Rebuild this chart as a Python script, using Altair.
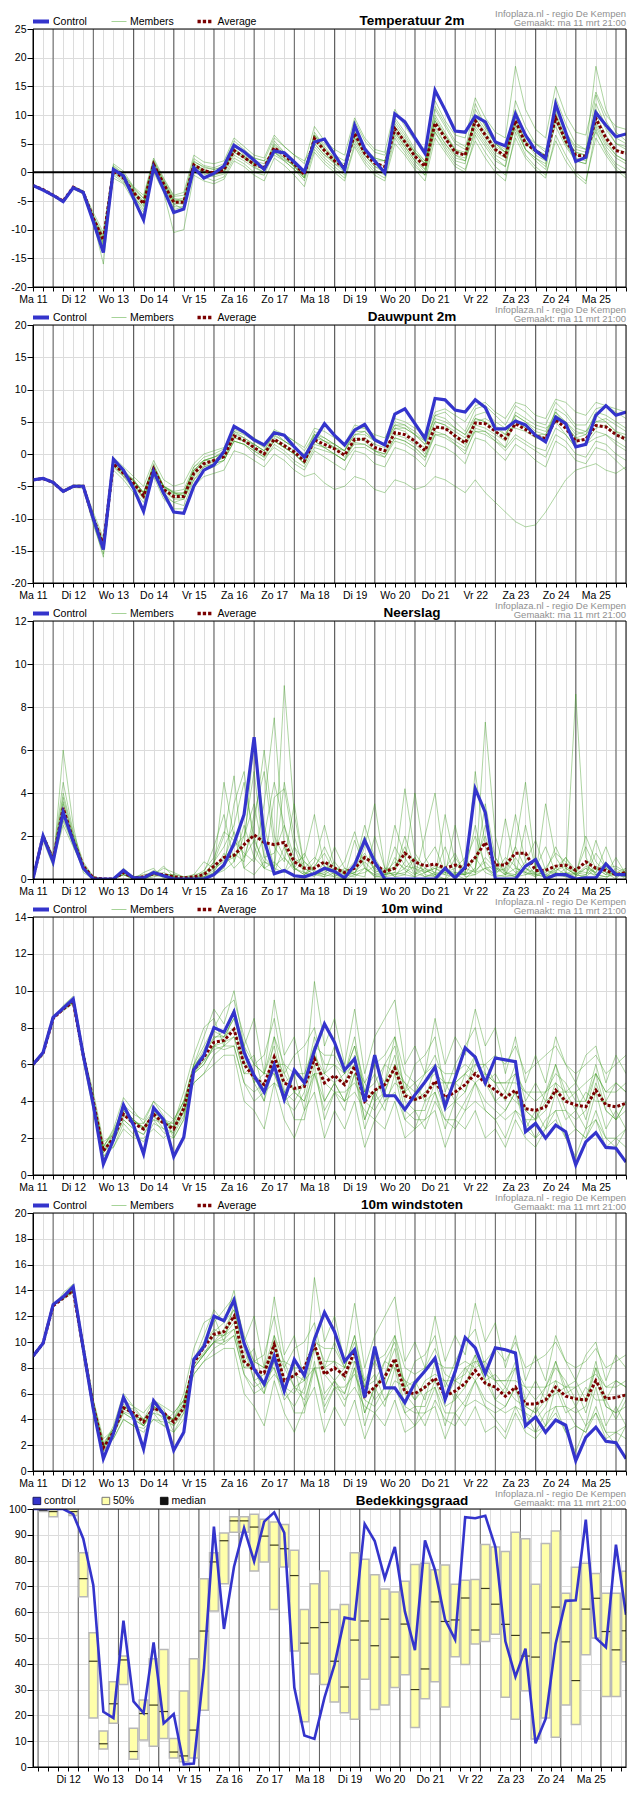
import altair as alt
import pandas as pd

FONT = "Liberation Sans"
W, H, GAP = 593, 258, 38

# ---------------- time axis (hours since Ma 11 00:00) ----------------
DAY_NAMES = ["Ma 11", "Di 12", "Wo 13", "Do 14", "Vr 15", "Za 16", "Zo 17", "Ma 18",
             "Di 19", "Wo 20", "Do 21", "Vr 22", "Za 23", "Zo 24", "Ma 25", "Di 26"]
HOURS = [12 + 6 * i for i in range(60)]          # panels 1-5, every 6 h
HOURS_CC = [21 + 6 * i for i in range(60)]       # cloud-cover panel
DAY_LINES = [24 * k for k in range(1, 16)]
GRID_HOURS = list(range(12, 367, 6))
GRID_HOURS_CC = list(range(24, 376, 6))

# ---------------- Temperatuur 2m ----------------
T2M_CONTROL = [-2.3, -3.1, -4.0, -5.1, -2.7, -3.5, -8.6, -14.0, 0.5, -0.6,
               -4.5, -8.3, 0.9, -3.0, -7.0, -6.4, 0.8, -1.0, -0.2, 1.1,
               4.7, 3.6, 2.1, 0.5, 3.7, 3.4, 1.8, 0.1, 5.3, 5.8,
               3.1, 0.4, 8.2, 4.1, 2.0, -0.1, 10.2, 8.8, 6.0, 3.3,
               14.3, 10.9, 7.2, 7.0, 9.8, 8.8, 5.3, 4.6, 10.2, 6.5,
               3.8, 2.4, 11.9, 7.0, 1.9, 2.6, 10.4, 8.2, 6.2, 6.7]
T2M_AVERAGE = [-2.3, -3.0, -4.0, -5.0, -2.6, -3.5, -8.0, -11.8, 0.3, -1.0,
               -3.5, -5.5, 1.4, -2.0, -5.2, -5.2, 1.3, 0.3, -0.1, 0.4,
               3.8, 2.6, 1.4, 0.8, 4.3, 3.0, 1.5, -0.4, 5.9, 3.8,
               2.0, 0.8, 6.8, 3.3, 1.6, 1.0, 7.6, 5.3, 2.8, 1.0,
               8.6, 6.0, 3.5, 3.0, 9.0, 6.5, 4.0, 2.8, 9.0, 5.0,
               3.8, 2.6, 9.5, 5.5, 3.0, 2.8, 9.4, 6.0, 3.8, 3.3]
T2M_MEMBERS = [
    [-2.2, -3.0, -3.9, -4.9, -2.4, -3.2, -7.5, -11.0, 1.5, 0.2,
     -2.5, -4.0, 2.5, -1.0, -4.0, -3.5, 3.0, 1.8, 1.5, 2.0,
     6.0, 4.5, 3.0, 2.5, 6.5, 4.5, 3.0, 1.5, 8.0, 5.5,
     4.0, 3.0, 9.5, 6.0, 4.0, 3.5, 11.0, 8.0, 5.5, 4.0,
     12.5, 9.0, 6.5, 6.0, 13.0, 9.5, 7.0, 6.0, 18.5, 11.0,
     7.5, 6.0, 15.0, 10.0, 7.0, 6.5, 14.0, 10.0, 8.0, 7.5],
    [-2.4, -3.1, -4.2, -5.3, -2.9, -3.8, -9.0, -13.5, -1.0, -2.0,
     -5.0, -7.5, 0.0, -3.5, -10.5, -10.0, -0.5, -1.5, -2.0, -1.2,
     2.0, 1.0, -0.5, -1.5, 2.5, 1.2, -0.5, -2.5, 3.5, 1.5,
     0.0, -1.5, 4.5, 1.5, -0.5, -1.5, 5.0, 3.0, 0.5, -1.5,
     6.0, 3.5, 1.0, 0.0, 6.5, 3.5, 1.0, -0.5, 6.0, 2.5,
     0.5, -1.0, 6.5, 3.0, 0.0, -1.5, 6.0, 3.0, 0.5, -1.0],
    [-2.3, -3.0, -4.0, -5.0, -2.5, -3.4, -7.8, -12.0, 0.8, -0.5,
     -3.0, -5.0, 2.0, -1.5, -4.5, -5.0, 2.0, 0.8, 0.5, 1.0,
     5.0, 3.0, 2.0, 1.5, 4.0, 2.5, 1.0, -1.0, 7.0, 4.5,
     2.5, 1.0, 6.0, 3.0, 1.0, 0.5, 9.0, 6.5, 3.5, 1.5,
     10.0, 7.0, 4.0, 3.5, 8.0, 5.5, 3.0, 2.0, 11.0, 6.5,
     5.0, 3.5, 8.0, 4.5, 2.0, 1.5, 12.0, 8.0, 5.0, 4.0],
    [-2.3, -3.0, -4.1, -5.1, -2.7, -3.6, -8.3, -12.5, -0.2, -1.5,
     -4.0, -6.5, 0.8, -2.5, -6.0, -6.0, 0.5, -0.3, -0.8, -0.3,
     3.0, 2.0, 0.8, 0.0, 5.0, 3.5, 2.0, 0.0, 5.0, 3.0,
     1.5, 0.0, 7.5, 4.0, 2.5, 2.0, 7.0, 4.5, 2.0, 0.5,
     9.5, 6.5, 4.0, 3.0, 10.0, 7.5, 5.0, 4.0, 8.0, 4.0,
     2.5, 1.5, 10.5, 6.0, 3.5, 3.0, 8.5, 5.0, 3.0, 2.0],
    [-2.2, -2.9, -3.9, -5.0, -2.5, -3.3, -7.0, -10.5, 1.2, -0.2,
     -2.8, -4.5, 1.8, -1.5, -4.8, -4.5, 1.8, 1.0, 0.5, 1.0,
     4.5, 3.5, 2.5, 2.0, 3.5, 2.5, 1.0, -0.5, 6.5, 5.0,
     3.0, 2.0, 7.0, 4.0, 2.5, 2.0, 8.0, 5.5, 3.5, 2.0,
     7.5, 5.0, 3.0, 2.5, 9.5, 7.0, 4.5, 3.5, 10.0, 6.0,
     4.0, 3.0, 11.0, 7.0, 4.5, 4.0, 11.0, 7.5, 5.0, 4.5],
    [-2.4, -3.0, -4.0, -5.0, -2.6, -3.5, -8.0, -12.5, 0.0, -1.2,
     -4.5, -6.0, 1.0, -2.5, -5.5, -5.5, 1.0, 0.0, -0.5, 0.0,
     4.0, 2.8, 1.2, 0.5, 5.5, 3.5, 1.5, -0.8, 4.5, 2.5,
     1.0, -0.5, 8.0, 4.5, 2.0, 0.0, 6.5, 4.0, 1.5, -0.5,
     8.0, 5.0, 2.5, 2.0, 7.0, 4.5, 2.0, 1.0, 8.5, 4.0,
     2.0, 0.5, 9.0, 5.0, 2.0, 1.5, 8.0, 4.5, 2.5, 1.5],
    [-2.3, -3.1, -4.0, -5.0, -2.6, -3.6, -8.5, -16.0, 0.5, -1.0,
     -3.5, -5.5, 1.2, -2.0, -5.0, -4.8, 1.5, 0.5, 0.0, 0.8,
     3.5, 2.5, 1.5, 1.0, 3.0, 2.0, 0.5, -1.0, 6.0, 4.0,
     2.0, 1.5, 6.5, 3.5, 2.0, 2.0, 8.5, 6.0, 3.5, 1.5,
     11.0, 8.0, 5.0, 4.0, 12.0, 8.0, 5.0, 3.5, 9.0, 5.5,
     4.0, 3.0, 12.0, 7.0, 4.0, 3.5, 18.5, 11.0, 7.0, 5.5],
    [-2.2, -3.0, -4.1, -4.9, -2.6, -3.4, -8.0, -11.5, 0.6, -0.8,
     -3.3, -5.3, 1.6, -2.0, -5.5, -6.5, 1.0, 0.0, -0.5, 0.2,
     3.5, 2.5, 1.0, 0.0, 4.5, 3.0, 1.0, -1.0, 5.5, 3.5,
     1.5, 0.5, 6.0, 3.0, 1.0, 0.0, 7.5, 5.0, 2.5, 0.5,
     9.0, 6.0, 3.0, 2.0, 7.5, 5.0, 2.5, 1.0, 9.5, 5.5,
     3.0, 2.0, 10.0, 5.0, 2.5, 2.0, 9.0, 5.5, 3.0, 2.0],
    [-2.3, -3.0, -4.0, -5.0, -2.6, -3.5, -8.2, -12.8, 0.2, -1.1,
     -3.8, -5.8, 1.0, -2.2, -5.0, -5.6, 1.2, 0.2, -0.2, 0.3,
     4.2, 2.8, 1.6, 1.0, 3.5, 2.2, 1.2, -0.2, 6.5, 4.2,
     2.5, 1.0, 5.5, 2.5, 0.5, -0.5, 9.5, 7.0, 4.0, 2.0,
     7.0, 4.5, 2.0, 1.5, 11.0, 8.0, 5.0, 3.5, 7.5, 4.0,
     2.5, 1.0, 13.0, 8.5, 5.0, 4.0, 7.0, 4.0, 1.5, 0.5],
    [-2.2, -3.0, -3.9, -5.0, -2.5, -3.4, -7.6, -11.2, 1.0, -0.3,
     -2.6, -4.6, 2.2, -1.2, -4.2, -4.0, 2.4, 1.2, 0.8, 1.5,
     5.5, 4.0, 2.5, 2.0, 6.0, 4.5, 3.0, 2.0, 5.0, 3.0,
     2.0, 0.5, 9.0, 5.5, 3.5, 3.0, 7.0, 4.5, 2.0, 0.0,
     11.5, 8.5, 5.5, 4.5, 8.5, 6.0, 3.5, 2.5, 12.5, 8.0,
     5.0, 4.0, 9.0, 5.5, 3.0, 2.5, 13.5, 9.0, 6.0, 5.0],
    [-2.3, -3.1, -4.1, -5.2, -2.8, -3.7, -8.8, -13.0, -0.5, -1.8,
     -4.2, -7.0, 0.5, -3.0, -6.5, -6.0, 0.0, -0.8, -1.5, -0.8,
     2.5, 1.5, 0.0, -0.5, 3.5, 2.0, 0.5, -1.5, 4.0, 2.0,
     0.5, -1.0, 5.0, 2.0, 0.0, -1.0, 6.0, 3.5, 1.0, -0.5,
     7.0, 4.0, 1.5, 0.5, 5.5, 2.5, 0.0, -1.5, 7.0, 3.0,
     1.0, -0.5, 5.5, 2.0, -0.5, -2.0, 7.5, 3.5, 1.0, -0.5],
    [-2.3, -3.0, -4.0, -5.0, -2.6, -3.5, -7.9, -12.2, 0.4, -0.9,
     -3.4, -5.4, 1.5, -1.8, -5.0, -5.0, 1.4, 0.4, 0.0, 0.6,
     4.0, 2.7, 1.5, 0.8, 4.8, 3.2, 1.8, 0.0, 6.5, 4.0,
     2.2, 1.0, 7.0, 3.5, 1.8, 1.0, 8.0, 5.5, 3.0, 1.5,
     9.0, 6.5, 3.8, 3.0, 9.5, 6.5, 4.0, 3.0, 9.0, 5.0,
     3.5, 2.5, 10.0, 6.0, 3.5, 3.0, 10.0, 6.5, 4.0, 3.5],
]

# ---------------- Dauwpunt 2m ----------------
TD_CONTROL = [-4.0, -3.8, -4.4, -5.8, -5.0, -5.0, -10.0, -14.8, -0.8, -2.5,
              -5.3, -8.9, -2.7, -6.1, -9.0, -9.2, -5.0, -2.5, -1.7, 0.4,
              4.3, 3.4, 2.2, 1.4, 3.3, 2.9, 1.1, -0.5, 2.2, 4.7,
              2.9, 1.4, 3.7, 4.6, 2.2, 1.4, 6.2, 7.0, 4.7, 2.4,
              8.6, 8.4, 6.8, 6.5, 8.4, 7.2, 3.9, 3.9, 5.1, 4.5,
              2.9, 1.9, 5.7, 4.7, 1.1, 1.5, 6.0, 7.5, 6.0, 6.5]
TD_AVERAGE = [-4.0, -3.8, -4.4, -5.8, -5.0, -5.0, -10.0, -14.0, -1.5, -3.0,
              -4.5, -6.5, -2.3, -5.5, -6.6, -6.6, -3.0, -1.5, -1.0, -0.4,
              2.8, 2.1, 1.0, 0.0, 2.3, 1.3, 0.3, -1.1, 2.2, 1.5,
              0.8, -0.2, 2.3, 2.3, 1.0, 0.5, 3.3, 3.0, 2.0, 0.5,
              4.2, 4.0, 2.8, 1.7, 4.8, 4.7, 3.5, 2.4, 4.7, 3.8,
              2.8, 2.4, 5.3, 4.0, 2.0, 2.3, 4.4, 4.2, 3.0, 2.3]
TD_MEMBERS = [
    [-4.0, -3.7, -4.3, -5.6, -4.8, -4.8, -9.0, -13.0, -0.5, -2.0,
     -3.5, -5.0, -1.0, -4.0, -5.0, -4.5, -1.5, 0.0, 0.5, 1.0,
     4.0, 3.5, 2.5, 1.5, 3.5, 3.0, 2.0, 1.0, 4.0, 3.5,
     2.5, 1.5, 4.5, 4.0, 3.0, 2.5, 5.5, 5.0, 4.0, 3.0,
     6.5, 7.0, 6.0, 5.0, 7.5, 8.0, 6.5, 5.5, 8.0, 7.5,
     6.0, 5.5, 8.5, 8.0, 6.5, 6.0, 8.0, 7.5, 7.0, 6.5],
    [-4.1, -3.9, -4.6, -6.0, -5.2, -5.3, -11.0, -15.5, -2.5, -4.0,
     -6.0, -8.5, -3.5, -7.0, -8.5, -8.5, -5.0, -3.5, -3.0, -2.5,
     0.5, 0.0, -1.0, -2.0, 0.0, -1.0, -2.5, -3.5, -3.0, -4.5,
     -5.5, -5.0, -3.5, -4.0, -5.5, -6.0, -4.0, -4.5, -5.5, -5.0,
     -3.5, -4.0, -5.0, -6.0, -4.0, -6.0, -7.5, -9.0, -10.5, -11.3,
     -11.0, -9.0, -6.5, -4.0, -2.5, -2.0, -1.5, -2.5, -3.0, -2.0],
    [-4.0, -3.8, -4.4, -5.8, -5.0, -5.1, -10.0, -14.5, -1.0, -2.8,
     -4.0, -6.0, -2.0, -5.0, -6.5, -6.0, -2.5, -1.0, -0.5, 0.0,
     3.5, 2.5, 1.5, 0.5, 2.0, 1.0, 0.0, -1.5, 3.0, 2.0,
     1.0, 0.0, 1.5, 1.5, 0.5, 0.0, 4.0, 3.5, 2.0, 1.0,
     5.0, 4.5, 3.0, 2.0, 3.5, 3.5, 2.5, 1.0, 5.5, 4.0,
     3.0, 3.0, 6.5, 4.5, 2.5, 3.0, 5.0, 5.0, 3.5, 3.0],
    [-3.9, -3.8, -4.5, -5.7, -5.0, -4.9, -9.5, -13.5, -2.0, -3.5,
     -5.5, -7.5, -3.0, -6.0, -7.5, -8.0, -4.0, -2.5, -2.0, -1.0,
     2.0, 1.5, 0.0, -1.0, 1.5, 0.5, -1.0, -2.0, 1.0, 0.5,
     0.0, -1.0, 2.5, 2.0, 0.5, -0.5, 2.0, 1.5, 0.5, -1.0,
     3.0, 3.0, 1.5, 0.0, 4.0, 3.5, 2.0, 1.0, 3.0, 2.0,
     1.0, 0.5, 4.0, 3.0, 1.0, 1.5, 3.5, 3.0, 1.5, 0.5],
    [-4.0, -3.8, -4.4, -5.9, -5.1, -5.0, -10.5, -16.0, -1.5, -3.0,
     -4.0, -6.0, -1.5, -5.0, -6.0, -6.5, -3.0, -1.0, -1.0, 0.0,
     3.0, 2.0, 1.5, 0.5, 3.5, 2.0, 1.0, 0.0, 2.0, 1.0,
     1.0, 0.5, 3.0, 3.5, 2.0, 1.5, 4.5, 4.5, 3.5, 2.0,
     5.5, 5.0, 4.0, 3.0, 6.0, 6.5, 5.0, 4.0, 4.0, 3.5,
     2.5, 2.0, 7.0, 6.0, 4.0, 3.5, 6.0, 5.0, 3.5, 2.5],
    [-4.0, -3.9, -4.3, -5.8, -5.0, -5.0, -10.0, -14.0, -1.2, -3.2,
     -4.5, -6.8, -2.5, -5.0, -6.0, -6.0, -2.5, -1.5, -1.0, -0.5,
     2.5, 2.0, 1.0, 0.0, 2.5, 1.5, 0.5, -1.0, 2.5, 2.0,
     1.0, -0.5, 2.0, 2.5, 1.5, 1.0, 3.0, 2.5, 1.5, 0.0,
     4.0, 4.0, 2.5, 1.5, 5.5, 5.0, 3.5, 2.5, 6.5, 5.5,
     4.5, 4.0, 5.0, 3.0, 1.0, 1.5, 2.5, 3.0, 2.0, 1.0],
    [-4.0, -3.8, -4.4, -5.8, -5.0, -5.0, -10.0, -13.8, -2.0, -3.5,
     -5.0, -7.0, -3.0, -6.5, -7.5, -7.0, -4.0, -2.0, -1.5, -1.0,
     2.0, 1.5, 0.5, -0.5, 2.0, 1.0, 0.0, -1.5, 1.5, 1.0,
     0.0, -1.0, 1.0, 1.0, 0.0, -0.5, 2.5, 2.0, 1.0, -0.5,
     3.5, 3.0, 2.0, 1.0, 4.5, 4.0, 3.0, 2.0, 5.0, 4.0,
     3.0, 2.5, 6.0, 4.5, 2.5, 2.0, 4.0, 4.5, 3.0, 2.0],
    [-4.0, -3.8, -4.4, -5.8, -5.0, -5.0, -10.0, -14.5, -1.0, -2.5,
     -4.0, -6.0, -2.0, -5.0, -6.0, -6.5, -2.0, -1.0, -0.5, 0.5,
     3.5, 3.0, 2.0, 1.0, 2.8, 2.0, 1.0, -0.5, 3.5, 2.5,
     1.5, 0.5, 3.5, 3.5, 2.0, 1.5, 4.0, 4.0, 3.0, 1.5,
     5.0, 4.5, 3.5, 2.5, 5.0, 5.5, 4.5, 3.0, 6.0, 5.0,
     4.0, 3.5, 6.5, 5.0, 3.0, 3.5, 5.0, 5.5, 4.5, 3.5],
    [-4.0, -3.8, -4.4, -5.8, -5.0, -5.0, -10.2, -14.2, -1.8, -3.2,
     -4.8, -6.8, -2.5, -5.8, -7.0, -7.0, -3.5, -2.0, -1.5, -1.0,
     2.0, 1.5, 0.5, -0.5, 1.0, 0.0, -1.5, -2.5, 0.5, -0.5,
     -1.5, -2.5, 0.5, 0.0, -1.5, -2.0, 1.0, 0.5, -0.5, -2.0,
     1.5, 1.0, 0.0, -1.5, 2.5, 2.0, 0.5, -1.0, 1.5, 0.5,
     -1.0, -2.0, 2.0, 1.0, -1.0, -1.5, 1.0, 0.5, -1.0, -2.5],
    [-4.0, -3.8, -4.4, -5.8, -5.0, -5.0, -9.8, -13.8, -1.2, -2.8,
     -4.2, -6.2, -2.0, -5.2, -6.2, -6.2, -2.5, -1.0, -0.5, 0.2,
     3.2, 2.5, 1.5, 0.5, 3.0, 2.0, 1.0, -0.5, 3.0, 2.5,
     1.5, 0.5, 3.0, 3.0, 2.0, 1.5, 5.0, 4.5, 3.0, 1.5,
     6.0, 6.5, 5.0, 3.5, 7.0, 7.5, 6.0, 4.5, 7.5, 6.5,
     5.0, 4.5, 8.0, 6.5, 4.5, 4.5, 7.0, 7.5, 6.5, 5.5],
    [-4.0, -3.8, -4.4, -5.8, -5.0, -5.0, -10.0, -14.0, -1.5, -3.0,
     -4.6, -6.6, -2.4, -5.6, -6.8, -6.8, -3.2, -1.8, -1.2, -0.6,
     2.6, 2.0, 0.8, -0.2, 2.0, 1.0, 0.0, -1.5, 2.0, 1.0,
     0.0, -1.0, 1.8, 1.5, 0.5, 0.0, 2.5, 2.0, 1.0, -0.5,
     3.0, 2.5, 1.5, 0.5, 3.5, 3.0, 2.0, 0.5, 2.5, 1.5,
     0.5, -0.5, 3.0, 2.0, 0.0, -0.5, 2.0, 1.5, 0.0, -1.0],
    [-4.0, -3.8, -4.4, -5.8, -5.0, -5.0, -10.0, -14.0, -1.0, -2.6,
     -4.2, -6.0, -1.8, -5.0, -5.8, -5.5, -2.0, -0.5, 0.0, 0.8,
     3.8, 3.2, 2.0, 1.2, 3.8, 3.0, 2.0, 0.5, 3.0, 2.0,
     1.5, 0.5, 4.0, 4.0, 2.5, 1.5, 4.5, 4.0, 3.0, 2.0,
     6.0, 5.5, 4.0, 3.0, 5.5, 5.0, 4.0, 3.0, 6.0, 5.0,
     3.5, 3.0, 6.0, 5.0, 3.5, 3.0, 6.5, 6.0, 5.0, 4.0],
]

# ---------------- Neerslag ----------------
RR_CONTROL = [0, 2.0, 0.8, 3.1, 1.75, 0.5, 0, 0, 0, 0.4,
              0.05, 0.05, 0.3, 0.15, 0, 0, 0, 0, 0.2, 0.65,
              1.65, 3.0, 6.6, 1.8, 0.25, 0.4, 0.15, 0.1, 0.25, 0.5,
              0.35, 0.05, 0.65, 1.8, 0.8, 0, 0, 0, 0, 0,
              0, 0.5, 0.05, 0.55, 4.2, 3.1, 0, 0, 0, 0.6,
              0.9, 0, 0.2, 0.2, 0, 0.05, 0.05, 0.7, 0.2, 0.2]
RR_AVERAGE = [0, 2.0, 0.9, 3.3, 1.8, 0.6, 0.05, 0, 0, 0.3,
              0.05, 0.1, 0.25, 0.2, 0.1, 0.05, 0.1, 0.2, 0.6, 1.0,
              1.1, 1.6, 2.05, 1.7, 1.6, 1.7, 0.8, 0.5, 0.5, 0.8,
              0.5, 0.3, 0.5, 1.0, 0.7, 0.35, 0.5, 1.2, 0.8, 0.6,
              0.7, 0.5, 0.65, 0.5, 1.0, 1.7, 0.65, 0.65, 1.2, 1.2,
              0.4, 0.4, 0.6, 0.65, 0.4, 0.8, 0.5, 0.4, 0.2, 0.3]
RR_MEMBERS = [
    [0, 2.1, 1.0, 4.5, 2.2, 0.8, 0.1, 0, 0, 0.5,
     0.1, 0, 0.2, 0.6, 0.1, 0, 0, 0.3, 1.5, 3.0,
     0.8, 2.0, 5.0, 1.0, 0.5, 4.5, 2.0, 0.3, 0.1, 0.8,
     0.2, 0, 0.5, 2.5, 1.0, 0.2, 0.3, 2.0, 0.5, 0.1,
     0.3, 1.5, 0.2, 0, 0.5, 3.5, 1.0, 0.2, 0.1, 2.5,
     0.5, 0, 0.3, 1.0, 0.2, 0.5, 0.1, 0, 0.5, 0.2],
    [0, 1.8, 0.6, 6.0, 2.5, 0.3, 0, 0, 0, 0.2,
     0, 0.3, 0.5, 0, 0, 0, 0.2, 0.8, 0.5, 4.5,
     2.0, 0.5, 1.0, 3.5, 7.5, 1.5, 0.5, 1.2, 0.3, 0.1,
     1.5, 0.5, 0.2, 0.1, 2.0, 0.5, 0.1, 0.8, 4.0, 1.0,
     0.2, 0, 1.0, 0.3, 2.5, 0.5, 0.1, 2.8, 0.5, 0.3,
     1.0, 0.2, 0.1, 0.5, 0.2, 2.0, 0.8, 0.3, 0, 0.5],
    [0, 2.0, 0.8, 2.5, 1.5, 0.5, 0, 0, 0, 0.3,
     0, 0, 0.1, 0.2, 0, 0, 0, 0, 0.2, 0.5,
     3.5, 5.0, 1.5, 0.5, 0.8, 0.3, 1.5, 0.2, 0.6, 1.2,
     0.3, 0.1, 1.8, 0.5, 0.2, 0, 1.0, 0.4, 0.1, 2.0,
     4.0, 0.5, 0.1, 0.3, 0.2, 7.3, 2.0, 0.3, 0.1, 0.2,
     0.5, 1.5, 0.3, 0.1, 0, 0.2, 1.2, 0.5, 0.2, 0.1],
    [0, 2.0, 0.9, 3.8, 2.0, 0.7, 0, 0, 0, 0.2,
     0.1, 0.1, 0.3, 0.2, 0.1, 0, 0, 0, 0.3, 1.2,
     0.5, 1.0, 2.5, 6.0, 2.0, 1.0, 0.5, 0.3, 0.2, 0.4,
     0.1, 0.5, 0.3, 0.8, 0.3, 0.1, 0.2, 0.5, 1.0, 0.3,
     0.5, 0.2, 2.5, 0.5, 0.3, 1.0, 0.5, 0.2, 1.5, 4.5,
     0.5, 0.1, 0.2, 0.3, 0.1, 0.5, 0.3, 1.5, 0.3, 0],
    [0, 2.1, 1.1, 3.0, 1.6, 0.4, 0, 0, 0, 0.4,
     0, 0, 0.2, 0.5, 0.3, 0.1, 0, 0.2, 0.8, 2.0,
     4.8, 0.5, 0.2, 0.8, 0.5, 9.0, 3.0, 0.5, 0.2, 0.3,
     0.8, 0.2, 0.1, 0.5, 0.1, 0.1, 2.5, 1.0, 0.2, 0.5,
     0.1, 0, 0.3, 0.2, 1.0, 0.3, 0.1, 0.2, 0.5, 0.3,
     0.2, 0.1, 0.5, 0.2, 8.6, 1.0, 0.2, 0.1, 0.3, 0.2],
    [0, 1.9, 0.7, 3.5, 1.8, 0.6, 0.1, 0, 0, 0.2,
     0, 0.1, 0.3, 0.1, 0, 0, 0.1, 0.1, 0.5, 0.8,
     1.0, 1.5, 6.5, 2.5, 0.5, 0.3, 0.8, 1.0, 3.0, 0.5,
     0.2, 0.1, 0.3, 1.0, 0.5, 0.2, 0.3, 0.2, 0.1, 0.3,
     0.5, 0.3, 0.2, 0.2, 5.0, 1.5, 0.3, 0.5, 3.0, 0.8,
     0.2, 0.1, 0.4, 0.6, 0.2, 0.1, 0.5, 0.2, 1.0, 0.2],
    [0, 2.0, 0.8, 2.8, 1.7, 0.5, 0, 0, 0, 0.3,
     0, 0, 0.2, 0.1, 0, 0, 0, 0.1, 0.2, 0.4,
     0.8, 2.5, 1.0, 0.5, 3.8, 4.2, 1.5, 0.8, 0.3, 0.2,
     0.1, 0, 0.2, 1.5, 3.5, 0.5, 0.1, 0.2, 1.0, 0.2,
     0.1, 3.0, 0.8, 0.1, 0.2, 0.5, 0.2, 0.1, 0.2, 0.5,
     0.1, 3.5, 1.0, 0.3, 0.2, 0.1, 1.8, 0.5, 0.1, 0.3],
    [0, 2.0, 0.9, 3.2, 1.9, 0.6, 0, 0, 0, 0.4,
     0.1, 0.2, 0.3, 0.2, 0.2, 0.1, 0.2, 0.3, 0.5, 1.0,
     1.5, 2.0, 3.5, 1.0, 1.2, 2.5, 0.5, 0.2, 0.5, 1.5,
     0.5, 0.3, 0.8, 2.0, 0.3, 0.5, 0.5, 4.2, 1.2, 0.5,
     0.3, 0.2, 0.1, 0.5, 1.0, 2.0, 0.5, 0.4, 1.5, 0.5,
     0.3, 0.5, 1.2, 0.8, 0.3, 1.5, 0.5, 0.2, 0.3, 0.5],
    [0, 2.0, 0.9, 3.6, 2.0, 0.6, 0, 0, 0, 0.3,
     0, 0.1, 0.2, 0.3, 0.1, 0, 0.1, 0.2, 0.8, 1.5,
     2.5, 4.5, 2.0, 0.5, 0.3, 1.5, 0.5, 0.2, 0.8, 2.5,
     0.6, 0.2, 0.3, 0.5, 0.2, 0.3, 0.8, 0.5, 0.2, 0.8,
     1.5, 0.3, 0.1, 0.8, 2.0, 0.6, 0.2, 0.8, 0.3, 0.5,
     0.2, 0.3, 1.5, 0.5, 0.2, 0.6, 0.3, 0.8, 0.2, 0.1],
    [0, 1.9, 0.8, 3.0, 1.7, 0.5, 0, 0, 0, 0.2,
     0, 0, 0.3, 0.1, 0, 0, 0, 0.1, 0.3, 0.6,
     1.2, 0.8, 3.0, 5.0, 1.5, 0.8, 3.5, 0.5, 0.2, 0.1,
     0.3, 0.8, 2.2, 0.6, 0.1, 0.2, 0.5, 1.5, 0.3, 0.1,
     0.2, 0.5, 1.2, 0.2, 0.5, 2.5, 1.0, 0.3, 0.2, 0.8,
     1.8, 0.4, 0.2, 0.1, 0.3, 0.2, 0.6, 0.3, 0.2, 0.4],
    [0, 2.1, 1.0, 4.0, 2.1, 0.7, 0.1, 0, 0, 0.3,
     0.1, 0.1, 0.4, 0.2, 0.2, 0.1, 0.1, 0.4, 1.0, 2.2,
     1.8, 1.2, 0.8, 2.0, 4.5, 2.5, 1.0, 0.5, 1.0, 0.6,
     0.4, 0.2, 0.6, 1.2, 0.4, 0.2, 1.5, 0.6, 0.5, 0.3,
     0.6, 0.4, 0.3, 0.2, 0.4, 0.8, 0.3, 1.0, 0.6, 0.2,
     0.3, 0.2, 0.5, 1.0, 0.4, 0.3, 0.2, 0.5, 0.6, 0.3],
    [0, 2.0, 0.8, 2.7, 1.6, 0.5, 0, 0, 0, 0.3,
     0, 0, 0.2, 0.1, 0.1, 0, 0, 0.1, 0.4, 0.9,
     2.2, 1.0, 1.8, 0.8, 0.6, 1.0, 0.4, 0.8, 0.4, 0.2,
     0.5, 0.4, 0.2, 0.3, 0.6, 0.3, 0.2, 0.3, 0.6, 0.4,
     0.2, 0.3, 0.5, 1.0, 0.3, 0.5, 0.6, 0.2, 1.0, 0.3,
     0.1, 0.4, 0.3, 0.2, 0.5, 0.7, 0.2, 0.1, 0.2, 0.3],
]

# ---------------- 10m wind ----------------
WIND_CONTROL = [6.0, 6.65, 8.55, 9.05, 9.55, 6.5, 3.8, 0.6, 1.9, 3.8,
                2.7, 1.15, 3.65, 3.0, 1.0, 2.05, 5.7, 6.5, 8.0, 7.75,
                8.85, 6.65, 5.4, 4.5, 5.95, 4.1, 5.7, 5.0, 6.75, 8.2,
                7.2, 5.7, 6.3, 4.0, 6.5, 4.3, 4.3, 3.55, 4.35, 5.05,
                5.85, 3.7, 5.25, 6.9, 6.4, 5.0, 6.35, 6.25, 6.15, 2.35,
                2.8, 2.0, 2.7, 2.35, 0.55, 1.8, 2.3, 1.5, 1.45, 0.7]
WIND_AVERAGE = [6.0, 6.6, 8.5, 9.0, 9.4, 6.5, 4.0, 1.3, 2.0, 3.3,
                2.8, 2.5, 3.3, 2.8, 2.5, 3.6, 5.7, 6.4, 7.2, 7.3,
                7.9, 6.0, 5.3, 4.9, 6.4, 5.0, 4.7, 4.8, 6.3, 5.0,
                5.4, 4.9, 5.9, 4.0, 4.6, 4.9, 5.8, 4.3, 4.1, 4.3,
                5.1, 4.2, 4.5, 4.9, 5.5, 5.0, 4.6, 4.2, 4.6, 3.6,
                3.5, 3.7, 4.6, 4.0, 3.8, 3.7, 4.6, 3.8, 3.7, 3.9]
WIND_MEMBERS = [
    [5.9, 6.5, 8.4, 9.2, 9.7, 6.8, 4.2, 1.5, 2.5, 4.2,
     3.5, 2.8, 4.0, 3.2, 2.0, 3.0, 6.0, 7.5, 9.0, 8.2,
     10.0, 7.0, 8.5, 5.5, 9.5, 6.5, 7.5, 5.0, 10.5, 7.0,
     8.5, 6.0, 9.0, 5.5, 7.5, 8.5, 9.5, 6.0, 7.0, 5.5,
     8.5, 6.0, 7.5, 6.5, 9.0, 7.0, 8.0, 5.5, 7.5, 5.0,
     6.5, 5.0, 7.5, 6.0, 5.0, 6.5, 7.0, 5.0, 6.5, 5.5],
    [6.1, 6.7, 8.6, 8.9, 9.3, 6.2, 3.5, 1.0, 1.5, 2.8,
     2.2, 1.8, 2.8, 2.5, 3.0, 4.0, 5.0, 5.5, 6.0, 6.5,
     6.5, 4.0, 3.5, 2.5, 5.0, 3.0, 2.0, 3.5, 4.5, 2.0,
     3.5, 2.5, 4.0, 1.5, 3.0, 2.5, 4.0, 2.0, 2.5, 3.0,
     3.5, 1.5, 3.0, 2.5, 3.5, 2.0, 2.5, 1.5, 3.0, 2.0,
     1.5, 2.5, 3.0, 2.0, 1.0, 2.5, 3.0, 1.5, 2.0, 2.5],
    [6.0, 6.6, 8.5, 9.0, 9.5, 6.6, 4.5, 1.8, 2.2, 3.5,
     3.0, 2.5, 3.5, 3.0, 2.8, 4.5, 6.5, 8.0, 8.5, 7.0,
     9.0, 6.0, 5.5, 4.0, 7.5, 5.0, 5.5, 3.5, 6.0, 3.0,
     4.5, 3.5, 5.5, 2.5, 4.0, 6.0, 7.0, 4.5, 6.0, 6.5,
     7.5, 4.5, 6.0, 7.0, 8.0, 5.5, 5.0, 4.0, 5.5, 3.5,
     3.0, 4.5, 6.0, 4.0, 4.5, 3.0, 5.0, 3.5, 3.0, 4.0],
    [6.0, 6.6, 8.5, 9.0, 9.4, 6.4, 3.8, 0.8, 1.8, 3.0,
     2.5, 2.2, 3.0, 2.3, 2.0, 3.0, 5.5, 6.0, 7.0, 6.8,
     7.0, 5.0, 4.5, 5.0, 5.5, 4.0, 3.5, 4.5, 7.0, 4.0,
     5.0, 4.0, 6.0, 3.0, 4.5, 3.5, 5.5, 3.0, 2.5, 4.0,
     4.5, 2.5, 4.0, 3.5, 5.0, 3.5, 3.0, 3.5, 4.5, 2.5,
     3.5, 2.5, 4.5, 3.0, 3.5, 2.5, 4.5, 2.5, 3.5, 2.5],
    [6.0, 6.6, 8.5, 9.1, 9.5, 6.7, 4.0, 1.2, 2.3, 3.8,
     3.3, 3.0, 4.0, 3.5, 3.0, 4.0, 6.0, 7.0, 8.0, 9.0,
     9.5, 7.5, 6.0, 6.5, 8.5, 5.5, 6.5, 7.0, 8.0, 5.5,
     7.0, 5.5, 7.5, 4.5, 6.0, 5.0, 7.5, 4.5, 5.0, 4.0,
     6.0, 4.0, 5.0, 5.5, 6.5, 5.0, 5.5, 4.5, 6.0, 4.0,
     5.0, 4.0, 6.0, 4.5, 5.0, 4.0, 6.0, 4.0, 5.0, 4.5],
    [6.0, 6.6, 8.5, 9.0, 9.3, 6.4, 3.9, 1.4, 1.5, 2.5,
     2.0, 2.0, 2.5, 2.0, 2.5, 3.5, 5.0, 5.5, 6.5, 7.0,
     7.0, 5.0, 4.0, 4.5, 5.0, 4.5, 3.0, 3.0, 5.5, 3.5,
     4.5, 4.5, 5.0, 4.0, 3.5, 4.5, 6.0, 3.5, 3.0, 3.0,
     4.5, 3.0, 3.0, 4.0, 5.0, 4.0, 3.5, 3.0, 3.5, 3.0,
     2.0, 3.0, 3.5, 3.5, 2.5, 2.0, 3.5, 2.0, 1.5, 2.5],
    [6.0, 6.6, 8.5, 9.0, 9.4, 6.5, 4.0, 1.3, 2.0, 3.5,
     3.0, 2.5, 3.0, 2.8, 2.8, 4.0, 6.0, 6.5, 7.5, 7.5,
     8.5, 7.0, 5.0, 5.5, 7.0, 4.5, 5.5, 5.0, 7.5, 6.0,
     6.0, 5.0, 6.5, 4.5, 5.5, 4.0, 5.0, 4.5, 4.0, 5.0,
     5.5, 5.0, 5.0, 4.5, 6.0, 5.5, 5.0, 5.0, 5.0, 4.5,
     4.0, 4.5, 5.0, 4.5, 4.5, 5.0, 5.5, 4.5, 5.0, 4.5],
    [6.0, 6.6, 8.5, 9.0, 9.4, 6.5, 4.2, 1.6, 2.2, 3.2,
     2.8, 2.8, 3.5, 3.0, 2.2, 3.2, 5.5, 6.0, 7.0, 7.2,
     7.5, 5.5, 5.5, 4.5, 6.0, 6.0, 4.5, 5.0, 5.5, 5.5,
     5.0, 5.5, 6.0, 5.0, 4.0, 4.5, 6.0, 5.0, 4.0, 4.5,
     5.0, 5.0, 4.0, 5.5, 5.0, 5.5, 4.0, 4.5, 4.0, 3.5,
     3.0, 4.0, 4.5, 4.5, 3.5, 4.5, 4.0, 4.0, 3.0, 4.0],
    [6.0, 6.6, 8.5, 9.0, 9.4, 6.5, 4.0, 1.0, 1.8, 3.0,
     2.5, 2.2, 3.2, 2.5, 2.3, 3.4, 5.8, 6.8, 7.8, 7.5,
     8.0, 6.0, 6.5, 4.5, 6.5, 5.5, 4.5, 4.0, 6.5, 5.0,
     4.5, 4.0, 5.5, 3.0, 4.5, 5.0, 6.5, 4.0, 3.5, 3.5,
     5.0, 3.5, 4.0, 4.5, 6.5, 5.0, 4.0, 3.5, 4.5, 3.0,
     3.0, 3.5, 5.0, 3.5, 3.0, 3.5, 5.5, 3.5, 3.0, 3.5],
    [6.0, 6.6, 8.5, 9.0, 9.4, 6.5, 3.9, 1.2, 2.0, 3.4,
     3.0, 2.6, 3.2, 2.8, 2.6, 3.8, 5.5, 6.2, 7.0, 7.5,
     8.5, 6.5, 5.0, 4.0, 6.0, 4.5, 4.0, 5.0, 6.5, 5.5,
     6.0, 5.5, 7.0, 4.5, 5.0, 6.0, 5.5, 5.0, 4.5, 5.5,
     6.0, 5.5, 5.5, 6.0, 5.5, 6.0, 5.0, 5.0, 5.5, 4.5,
     4.5, 4.5, 5.5, 5.0, 4.0, 4.0, 5.5, 4.5, 4.5, 5.0],
    [6.0, 6.6, 8.5, 9.0, 9.4, 6.5, 4.1, 1.5, 2.4, 3.6,
     3.0, 2.4, 3.4, 3.0, 2.6, 3.4, 5.6, 6.2, 6.8, 7.0,
     7.5, 5.5, 6.0, 5.5, 5.5, 4.0, 4.5, 4.0, 5.5, 4.0,
     5.0, 4.0, 4.5, 3.5, 3.0, 4.0, 4.5, 3.0, 3.5, 2.5,
     4.0, 3.0, 2.5, 3.5, 4.0, 3.5, 3.0, 2.0, 3.5, 2.5,
     2.0, 2.5, 3.5, 2.0, 2.5, 2.0, 3.0, 2.0, 2.0, 1.5],
    [6.0, 6.6, 8.5, 9.0, 9.4, 6.5, 4.0, 1.4, 2.1, 3.3,
     2.9, 2.6, 3.4, 2.9, 2.6, 3.8, 5.9, 6.6, 7.4, 7.8,
     9.0, 7.0, 6.0, 5.5, 7.5, 6.0, 5.5, 5.5, 7.0, 6.5,
     6.5, 5.5, 7.0, 5.0, 6.0, 6.5, 7.5, 5.5, 5.0, 5.5,
     6.5, 5.0, 5.0, 5.5, 6.0, 6.0, 6.5, 6.0, 7.0, 5.5,
     6.0, 6.5, 7.0, 6.0, 5.5, 6.0, 6.5, 5.5, 6.0, 6.5],
]

# ---------------- 10m windstoten ----------------
GUST_CONTROL = [8.9, 9.9, 12.9, 13.5, 14.3, 9.5, 4.8, 0.95, 2.9, 5.7,
                4.15, 1.7, 5.45, 4.4, 1.6, 3.0, 8.65, 9.65, 12.0, 11.65,
                13.25, 9.9, 7.9, 6.75, 8.9, 6.2, 8.65, 7.4, 10.2, 12.3,
                10.8, 8.5, 9.4, 5.7, 9.65, 6.45, 6.45, 5.3, 6.85, 7.75,
                8.75, 5.55, 7.7, 10.35, 9.55, 7.55, 9.55, 9.4, 9.15, 3.5,
                4.2, 3.0, 3.95, 3.55, 0.8, 2.6, 3.4, 2.3, 2.2, 0.95]
GUST_AVERAGE = [8.9, 9.9, 12.8, 13.4, 14.0, 9.5, 5.0, 1.8, 3.0, 4.9,
                4.5, 3.8, 4.9, 4.5, 3.8, 4.9, 8.4, 9.6, 10.6, 10.8,
                12.0, 8.5, 7.8, 7.6, 9.8, 7.0, 7.4, 8.0, 9.8, 7.5,
                8.0, 7.4, 9.3, 5.8, 6.5, 7.3, 8.7, 6.1, 6.0, 6.5,
                7.2, 5.8, 6.2, 6.8, 7.8, 6.8, 6.5, 5.8, 6.5, 5.2,
                5.2, 5.5, 6.5, 5.8, 5.6, 5.5, 7.0, 5.6, 5.7, 5.9]
GUST_MEMBERS = [
    [8.8, 9.8, 12.7, 13.8, 14.5, 10.0, 5.5, 2.0, 3.5, 6.0,
     5.0, 4.0, 5.5, 4.8, 3.0, 4.0, 8.5, 10.5, 12.5, 11.5,
     14.0, 10.0, 12.0, 8.0, 13.5, 9.0, 10.5, 7.0, 15.0, 10.0,
     12.0, 8.5, 13.0, 8.0, 10.5, 12.0, 13.5, 8.5, 10.0, 8.0,
     12.0, 8.5, 10.5, 9.0, 13.0, 10.0, 11.5, 8.0, 10.5, 7.0,
     9.0, 7.0, 10.5, 8.5, 7.0, 9.0, 10.0, 7.0, 9.0, 8.0],
    [9.0, 10.0, 12.9, 13.3, 13.8, 9.0, 4.5, 1.5, 2.5, 4.0,
     3.5, 3.0, 4.0, 3.8, 4.5, 5.5, 7.5, 8.5, 9.0, 9.5,
     9.5, 6.0, 5.0, 3.5, 7.0, 4.5, 3.0, 5.0, 6.5, 3.0,
     5.0, 3.5, 5.5, 2.5, 4.5, 3.5, 5.5, 3.0, 3.5, 4.5,
     5.0, 2.5, 4.5, 3.5, 5.0, 3.0, 3.5, 2.5, 4.5, 3.0,
     2.5, 3.5, 4.5, 3.0, 1.5, 3.5, 4.5, 2.5, 3.0, 3.5],
    [8.9, 9.9, 12.8, 13.4, 14.1, 9.8, 5.5, 2.5, 3.2, 5.0,
     4.5, 3.5, 5.0, 4.5, 4.0, 6.0, 9.5, 11.5, 12.0, 10.0,
     13.0, 8.5, 8.0, 6.0, 10.5, 7.0, 8.0, 5.0, 8.5, 4.5,
     6.5, 5.0, 8.0, 3.5, 6.0, 8.5, 10.0, 6.5, 8.5, 9.0,
     10.5, 6.5, 8.5, 10.0, 11.0, 8.0, 7.0, 6.0, 8.0, 5.0,
     4.5, 6.5, 8.5, 6.0, 6.5, 4.5, 7.0, 5.0, 4.5, 6.0],
    [8.9, 9.9, 12.8, 13.4, 14.0, 9.3, 4.8, 1.2, 2.8, 4.5,
     4.0, 3.5, 4.5, 3.5, 3.0, 4.5, 8.0, 9.0, 10.0, 9.8,
     10.5, 7.5, 6.5, 7.0, 8.0, 6.0, 5.0, 6.5, 10.0, 6.0,
     7.0, 6.0, 8.5, 4.5, 6.5, 5.0, 8.0, 4.5, 3.5, 6.0,
     6.5, 3.5, 6.0, 5.0, 7.0, 5.0, 4.5, 5.0, 6.5, 3.5,
     5.0, 3.5, 6.5, 4.5, 5.0, 3.5, 6.5, 3.5, 5.0, 3.5],
    [8.9, 9.9, 12.8, 13.6, 14.2, 9.8, 5.2, 1.8, 3.3, 5.5,
     5.0, 4.5, 5.5, 5.0, 4.5, 5.5, 8.5, 10.0, 11.5, 12.5,
     13.5, 10.5, 8.5, 9.0, 12.0, 8.0, 9.5, 10.0, 11.5, 8.0,
     10.0, 8.0, 10.5, 6.5, 8.5, 7.0, 10.5, 6.5, 7.0, 5.5,
     8.5, 5.5, 7.0, 7.5, 9.0, 7.0, 7.5, 6.5, 8.5, 5.5,
     7.0, 5.5, 8.5, 6.5, 7.0, 5.5, 8.5, 5.5, 7.0, 6.5],
    [8.9, 9.9, 12.8, 13.4, 13.9, 9.2, 4.9, 2.0, 2.5, 4.0,
     3.5, 3.3, 4.0, 3.5, 4.0, 5.0, 7.5, 8.5, 9.5, 10.0,
     10.5, 7.5, 6.0, 6.5, 7.5, 6.5, 4.5, 4.5, 8.0, 5.0,
     6.5, 6.5, 7.5, 5.5, 5.0, 6.5, 8.5, 5.0, 4.5, 4.5,
     6.5, 4.5, 4.5, 5.5, 7.0, 5.5, 5.0, 4.5, 5.0, 4.5,
     3.0, 4.5, 5.0, 5.0, 3.5, 3.0, 5.0, 3.0, 2.0, 3.5],
    [8.9, 9.9, 12.8, 13.4, 14.0, 9.5, 5.0, 1.8, 3.0, 5.0,
     4.5, 3.8, 4.5, 4.2, 4.0, 5.2, 8.5, 9.0, 10.5, 10.5,
     12.0, 10.0, 7.0, 7.5, 10.0, 6.5, 7.5, 7.0, 10.5, 8.5,
     8.5, 7.0, 9.0, 6.5, 7.5, 5.5, 7.0, 6.5, 5.5, 7.0,
     7.5, 7.0, 7.0, 6.5, 8.5, 7.5, 7.0, 7.0, 7.0, 6.5,
     5.5, 6.5, 7.0, 6.5, 6.5, 7.0, 7.5, 6.5, 7.0, 6.5],
    [8.9, 9.9, 12.8, 13.4, 14.0, 9.5, 5.3, 2.2, 3.2, 4.6,
     4.3, 4.0, 5.0, 4.5, 3.5, 4.5, 8.0, 9.0, 10.0, 10.5,
     11.0, 8.0, 8.0, 6.5, 8.5, 8.5, 6.5, 7.0, 8.0, 8.0,
     7.0, 8.0, 8.5, 7.0, 5.5, 6.5, 8.5, 7.0, 5.5, 6.5,
     7.0, 7.0, 5.5, 8.0, 7.0, 8.0, 5.5, 6.5, 5.5, 5.0,
     4.5, 5.5, 6.0, 6.5, 5.0, 6.5, 5.5, 5.5, 4.0, 5.5],
    [8.9, 9.9, 12.8, 13.4, 14.0, 9.5, 5.0, 1.5, 2.8, 4.5,
     4.0, 3.5, 4.8, 4.0, 3.5, 4.8, 8.5, 9.8, 11.0, 10.5,
     11.5, 8.5, 9.5, 6.5, 9.5, 8.0, 6.5, 6.0, 9.5, 7.5,
     6.5, 6.0, 8.0, 4.5, 6.5, 7.5, 9.5, 6.0, 5.0, 5.0,
     7.0, 5.0, 5.5, 6.5, 9.0, 7.0, 5.5, 5.0, 6.5, 4.5,
     4.0, 5.0, 7.0, 5.0, 4.5, 5.0, 8.0, 5.0, 4.5, 5.0],
    [8.9, 9.9, 12.8, 13.4, 14.0, 9.5, 4.9, 1.8, 3.0, 5.0,
     4.8, 4.0, 4.8, 4.5, 4.0, 5.5, 8.0, 9.0, 10.0, 11.0,
     12.5, 9.5, 7.0, 6.0, 8.5, 6.5, 6.0, 7.5, 9.5, 8.0,
     8.5, 8.0, 10.0, 6.5, 7.0, 8.5, 8.0, 7.0, 6.5, 8.0,
     8.5, 8.0, 8.0, 8.5, 8.0, 8.5, 7.0, 7.0, 8.0, 6.5,
     6.5, 6.5, 8.0, 7.0, 5.5, 5.5, 8.0, 6.5, 6.5, 7.0],
    [8.9, 9.9, 12.8, 13.4, 14.0, 9.5, 5.1, 2.0, 3.3, 5.2,
     4.3, 3.5, 5.0, 4.5, 3.8, 4.8, 8.2, 9.2, 10.0, 10.2,
     11.0, 8.0, 8.5, 8.0, 8.0, 5.5, 6.5, 5.5, 8.0, 5.5,
     7.0, 5.5, 6.5, 5.0, 4.5, 5.5, 6.5, 4.5, 5.0, 3.5,
     5.5, 4.0, 3.5, 5.0, 5.5, 5.0, 4.0, 3.0, 5.0, 3.5,
     3.0, 3.5, 5.0, 3.0, 3.5, 3.0, 4.5, 3.0, 3.0, 2.5],
    [8.9, 9.9, 12.8, 13.4, 14.0, 9.5, 5.0, 1.9, 3.1, 4.8,
     4.4, 3.9, 5.0, 4.4, 3.9, 5.2, 8.6, 9.7, 10.8, 11.5,
     12.5, 10.0, 8.5, 8.0, 10.5, 8.5, 8.0, 8.0, 10.0, 9.5,
     9.5, 8.0, 10.5, 7.0, 8.5, 9.0, 10.5, 8.0, 7.5, 8.0,
     9.5, 7.5, 7.0, 8.0, 8.5, 8.5, 9.5, 8.5, 10.0, 8.0,
     8.5, 9.0, 10.0, 8.5, 8.0, 8.5, 9.5, 8.0, 8.5, 9.0],
]

# ---------------- Bedekkingsgraad ----------------
CC_CONTROL = [100, 100, 100, 100, 98, 88.5, 70.5, 21.4, 19, 56.7,
              25.4, 20.9, 48.3, 16.9, 20.5, 1, 1.3, 37.8, 93.2, 53.5,
              77.6, 92.6, 79.7, 95.1, 98.7, 90.8, 30.8, 12.2, 10.9, 26.9,
              39.7, 57.9, 57.2, 94.2, 87.6, 73.1, 85.3, 60.3, 45.3, 87.8,
              76.3, 57.1, 49.4, 96.8, 96.4, 97.4, 85.3, 48.7, 35, 45.9,
              9.2, 18.6, 47.8, 64.4, 64.6, 95.9, 50, 46.4, 86.2, 59]
CC_LOW = [100, 99, 97, 100, 97.5, 66, 19, 7, 17, 32,
          3, 10.5, 8, 11, 3.5, 2, 3.5, 22, 60.5, 71,
          91, 91, 76, 79.5, 61, 77.5, 45, 17.5, 36, 32,
          25.2, 21, 18.5, 34, 22.3, 24, 30.8, 35.8, 15.3, 26.5,
          33, 23.3, 42.7, 39.7, 47.7, 48.6, 51.5, 27, 18.5, 29.6,
          10.9, 19, 11.5, 24, 16.5, 43.5, 50, 27.3, 27.3, 40.8]
CC_HIGH = [100, 100, 100, 100, 100, 83, 52, 14, 33, 43,
           15, 26, 42, 45.5, 11, 29.5, 42, 73, 83, 90.7,
           97, 97, 98, 96, 95, 94, 84, 61, 71, 76,
           61, 63, 83, 80.5, 74.5, 69, 67.8, 72, 78.5, 79,
           76.5, 78.3, 70.8, 72.4, 72.7, 86.2, 85.3, 83.5, 91, 88.5,
           70.8, 86.6, 91.5, 67.3, 77.4, 79, 75, 67.3, 67.3, 75.9]
CC_MEDIAN = [100, 99.5, 99, 100, 99, 73, 41, 9, 24.5, 41.5,
             6, 20.7, 24, 21.5, 5.8, 4.3, 14.3, 52.7, 79.5, 87.7,
             95.4, 95.4, 93, 89.5, 86, 84.6, 74.2, 48, 54, 56,
             41, 31, 49.2, 56.6, 47, 57.3, 42.6, 55.4, 30, 38,
             64, 56.4, 57, 65.5, 53.1, 69.2, 63.1, 55.3, 51, 43,
             42.6, 52, 62, 48.5, 33.5, 61.2, 65.4, 52.5, 45.4, 52.8]

SOURCE_1 = "Infoplaza.nl - regio De Kempen"
SOURCE_2 = "Gemaakt: ma 11 mrt 21:00"

# ---------------- styling ----------------
BLUE = "#3434cc"
MAROON = "#7a0000"
GREEN = "#3f9a22"
LIGHT_GRID = "#dcdcdc"
DARK_GRID = "#5f5f5f"
ONE = pd.DataFrame({"k": [0]})
DAYS_JS = "[" + ",".join("'%s'" % d for d in DAY_NAMES) + "]"


def x_enc(field, dom, ticks, lab_hour):
    return alt.X(
        f"{field}:Q",
        scale=alt.Scale(domain=dom, nice=False, zero=False),
        axis=alt.Axis(values=ticks, grid=True, gridColor=LIGHT_GRID, gridWidth=1,
                      tickSize=4, tickColor="black", domainColor="black",
                      labelExpr=f"datum.value % 24 == {lab_hour} ? {DAYS_JS}[floor(datum.value / 24)] : ''",
                      labelFontSize=10.5, labelFont=FONT, labelColor="black",
                      labelPadding=3, labelOverlap=False, labelFlush=False, title=None),
    )


def y_enc(field, dom, step):
    return alt.Y(
        f"{field}:Q",
        scale=alt.Scale(domain=dom, nice=False, zero=False),
        axis=alt.Axis(values=list(range(dom[0], dom[1] + 1, step)), grid=True,
                      gridColor=LIGHT_GRID, gridWidth=1, tickSize=6, tickColor="black",
                      domainColor="black", labelExpr="datum.value + ''",
                      labelFontSize=10.5, labelFont=FONT, labelColor="black",
                      labelPadding=1, labelFlush=False, title=None),
    )


def txt(s, x, y, size=10.5, align="left", weight="normal", color="black", baseline="middle"):
    return alt.Chart(ONE).mark_text(text=s, align=align, baseline=baseline, fontSize=size,
                                    font=FONT, fontWeight=weight, color=color).encode(
        x=alt.value(x), y=alt.value(y))


def seg(x1, x2, y, color, width, dash=None):
    kw = dict(color=color, strokeWidth=width)
    if dash:
        kw["strokeDash"] = dash
    return alt.Chart(ONE).mark_rule(**kw).encode(x=alt.value(x1), x2=alt.value(x2), y=alt.value(y))


def box(x1, x2, y1, y2, fill, stroke):
    return alt.Chart(ONE).mark_rect(fill=fill, stroke=stroke, strokeWidth=1).encode(
        x=alt.value(x1), x2=alt.value(x2), y=alt.value(y1), y2=alt.value(y2))


def borders():
    return [
        seg(0, W, 0, "black", 1),
        alt.Chart(ONE).mark_rule(color="black", strokeWidth=1).encode(
            x=alt.value(W), y=alt.value(0), y2=alt.value(H)),
        alt.Chart(ONE).mark_rule(color="black", strokeWidth=1).encode(
            x=alt.value(0), y=alt.value(0), y2=alt.value(H)),
        seg(0, W, H, "black", 1),
    ]


def header(title):
    return [
        txt(title, 379, -4.5, size=13.5, weight="bold", align="center", baseline="alphabetic"),
        txt(SOURCE_1, W, -12.5, size=9.5, align="right", color="#8f8f8f", baseline="alphabetic"),
        txt(SOURCE_2, W, -3.5, size=9.5, align="right", color="#8f8f8f", baseline="alphabetic"),
    ]


def line_panel(title, ydom, ystep, ctrl, avg, members, zero=False):
    X = lambda f: x_enc(f, [12, 366], GRID_HOURS, 12)
    Y = lambda f: y_enc(f, ydom, ystep)
    mem_df = pd.DataFrame([{"x": h, "v": v, "m": k}
                           for k, m in enumerate(members) for h, v in zip(HOURS, m)])
    ctrl_df = pd.DataFrame([{"x": h, "v": v} for h, v in zip(HOURS, ctrl)])
    avg_df = pd.DataFrame([{"x": h, "v": v} for h, v in zip(HOURS, avg)])
    layers = [
        alt.Chart(pd.DataFrame({"x": DAY_LINES})).mark_rule(color=DARK_GRID, strokeWidth=1).encode(x=X("x")),
        alt.Chart(mem_df).mark_line(color=GREEN, strokeWidth=1, opacity=0.42, clip=True).encode(
            x=X("x"), y=Y("v"), detail="m:N"),
    ]
    if zero:
        layers.append(alt.Chart(pd.DataFrame({"v": [0]})).mark_rule(color="black", strokeWidth=2).encode(y=Y("v")))
    layers += [
        alt.Chart(avg_df).mark_line(color=MAROON, strokeWidth=3, strokeDash=[3, 2], clip=True).encode(
            x=X("x"), y=Y("v")),
        alt.Chart(ctrl_df).mark_line(color=BLUE, strokeWidth=3.2, clip=True).encode(
            x=X("x"), y=Y("v")),
    ]
    layers += borders()
    layers += [
        seg(0, 16, -7.5, BLUE, 4),
        txt("Control", 20, -7.5),
        seg(78.5, 93.5, -7.5, "#a6d398", 1),
        txt("Members", 97, -7.5),
        seg(164.5, 179, -7.5, MAROON, 3.5, [3.3, 2]),
        txt("Average", 184.5, -7.5),
    ]
    layers += header(title)
    return alt.layer(*layers).properties(width=W, height=H)


def cloud_panel():
    X = lambda f: x_enc(f, [21, 375], GRID_HOURS_CC, 18)
    Y = lambda f: y_enc(f, [0, 100], 10)
    box_df = pd.DataFrame([{"x": h, "lo": lo, "hi": hi, "med": md}
                           for h, lo, hi, md in zip(HOURS_CC, CC_LOW, CC_HIGH, CC_MEDIAN)])
    ctrl_df = pd.DataFrame([{"x": h, "v": v} for h, v in zip(HOURS_CC, CC_CONTROL)])
    layers = [
        alt.Chart(pd.DataFrame({"x": DAY_LINES})).mark_rule(color=DARK_GRID, strokeWidth=1).encode(x=X("x")),
        alt.Chart(box_df).transform_calculate(x1="datum.x - 2.6", x2="datum.x + 2.6").mark_rect(
            fill="#ffffaa", stroke="#b8b8b8", strokeWidth=1.5, clip=True).encode(
            x=X("x1"), x2="x2:Q", y=Y("lo"), y2="hi:Q"),
        alt.Chart(box_df).transform_calculate(x1="datum.x - 2.6", x2="datum.x + 2.6").mark_rule(
            color="#3a3a1a", strokeWidth=1.2, clip=True).encode(
            x=X("x1"), x2="x2:Q", y=Y("med")),
        alt.Chart(ctrl_df).mark_line(color=BLUE, strokeWidth=2.6, clip=True).encode(
            x=X("x"), y=Y("v")),
    ]
    layers += borders()
    layers += [
        box(0, 7.7, -11.7, -4.4, BLUE, "#1a1a66"),
        txt("control", 11, -8),
        box(69, 76.7, -11.7, -4.4, "#ffffaa", "#777777"),
        txt("50%", 80, -8),
        box(127.4, 135, -11.7, -4.4, "#111111", "#111111"),
        txt("median", 138.4, -8),
    ]
    layers += header("Bedekkingsgraad")
    return alt.layer(*layers).properties(width=W, height=H)


chart = alt.vconcat(
    line_panel("Temperatuur 2m", [-20, 25], 5, T2M_CONTROL, T2M_AVERAGE, T2M_MEMBERS, zero=True),
    line_panel("Dauwpunt 2m", [-20, 20], 5, TD_CONTROL, TD_AVERAGE, TD_MEMBERS),
    line_panel("Neerslag", [0, 12], 2, RR_CONTROL, RR_AVERAGE, RR_MEMBERS),
    line_panel("10m wind", [0, 14], 2, WIND_CONTROL, WIND_AVERAGE, WIND_MEMBERS),
    line_panel("10m windstoten", [0, 20], 2, GUST_CONTROL, GUST_AVERAGE, GUST_MEMBERS),
    cloud_panel(),
    spacing=GAP,
    bounds="flush",
).properties(
    padding={"left": 0, "top": 0, "right": 0, "bottom": 0},
    background="white",
).configure_view(stroke=None)

chart.save("out.html", embed_options={"renderer": "svg", "actions": False})
